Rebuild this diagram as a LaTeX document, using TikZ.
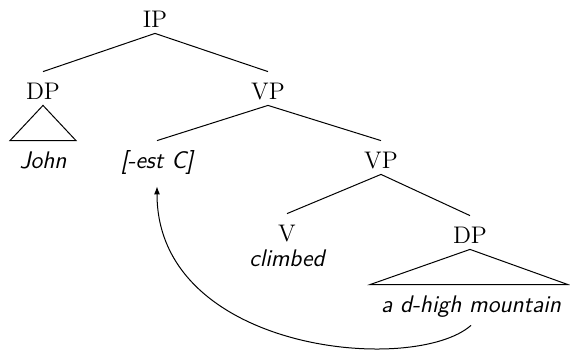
\documentclass[12pt,tikz,border=0pt]{standalone}
\usetikzlibrary{calc,arrows.meta}
\begin{document}
\begin{tikzpicture}[x=0.5pt,y=-0.5pt,
  cat/.style={anchor=base,inner xsep=1pt,inner ysep=3pt,text height=10.5pt,text depth=0pt},
  leaf/.style={cat,font=\sffamily\itshape},
  edge/.style={line width=0.5pt}]
\useasboundingbox (0,0) rectangle (570,350);
\node[cat] (IP) at (155,27) {IP};
\node[cat] (DPa) at (43,99) {DP};
\node[cat] (VPa) at (268,99) {VP};
\node[leaf] (John) at (43,168) {John};
\node[leaf] (est) at (157,168) {[-est C]};
\node[cat] (VPb) at (381,168) {VP};
\node[cat] (V) at (287,241) {V};
\node[leaf] (climbed) at (287,266) {climbed};
\node[cat] (DPb) at (470,243) {DP};
\node[leaf] (mount) at (471,312) {a d-high mountain};
\draw[edge] (IP.south) -- (DPa.north);
\draw[edge] (IP.south) -- (VPa.north);
\draw[edge] (VPa.south) -- (est.north);
\draw[edge] (VPa.south) -- (VPb.north);
\draw[edge] (VPb.south) -- (V.north);
\draw[edge] (VPb.south) -- (DPb.north);
\coordinate (jl) at ($(John.north)+(-33,0)$);
\coordinate (jr) at ($(John.north)+(33,0)$);
\draw[edge] (DPa.south) -- (jl) -- (jr) -- cycle;
\coordinate (ml) at ($(mount.north)+(-101,0)$);
\coordinate (mr) at ($(mount.north)+(97,0)$);
\draw[edge] (DPb.south) -- (ml) -- (mr) -- cycle;
\draw[edge,-{Latex[length=4pt,width=3pt]}] ([yshift=-3.5pt]mount.south) .. controls +(-57,50) and +(0,166) .. ([yshift=-6pt]est.south);
\end{tikzpicture}
\end{document}
